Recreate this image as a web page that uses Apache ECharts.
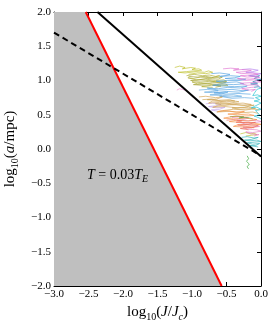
<!DOCTYPE html>
<html><head><meta charset="utf-8">
<script src="https://cdn.jsdelivr.net/npm/echarts@6/dist/echarts.min.js"></script>
<style>html,body{margin:0;padding:0;background:#fff}#c{width:274px;height:328px}</style>
</head><body><div id="c"></div>
<script>
// Axis ticks
const xTicks = [-3.0, -2.5, -2.0, -1.5, -1.0, -0.5, 0.0];
const yTicks = [-2.0, -1.5, -1.0, -0.5, 0.0, 0.5, 1.0, 1.5, 2.0];
// Boundary lines [log10(J/Jc), log10(a/mpc)]
const shadedBoundary = [[-3.0, 2.0], [-2.54, 2.0], [-0.57, -2.0]];
const redLine = [[-2.54, 2.0], [-0.57, -2.0]];
const solidLine = [[-2.37, 2.0], [0.0, -0.11]];
const dashedLine = [[-3.0, 1.70], [0.0, -0.10]];
// Trajectories
const oliveWisp = [[-1.25,1.19],[-1.18,1.21],[-1.1,1.19],[-1.14,1.17],[-1.02,1.19],[-0.95,1.18],[-1.0,1.16],[-0.9,1.17],[-0.86,1.15],[-0.98,1.14],[-1.08,1.13],[-1.2,1.12],[-1.1,1.11],[-0.94,1.13],[-0.82,1.12],[-0.76,1.14],[-0.7,1.12],[-0.8,1.1],[-0.92,1.11],[-1.05,1.09]];
const oliveDense1 = [[-1.08,1.07],[-0.97,1.09],[-0.85,1.07],[-0.75,1.08],[-0.66,1.06],[-0.6,1.07],[-0.72,1.04],[-0.88,1.05],[-0.98,1.03],[-1.06,1.04],[-0.94,1.01],[-0.8,1.02],[-0.66,1.0],[-0.54,1.01],[-0.5,0.99],[-0.6,0.98],[-0.74,0.99],[-0.88,0.97],[-1.0,0.98],[-0.92,0.95],[-0.78,0.96],[-0.64,0.94],[-0.52,0.95],[-0.48,0.93],[-0.6,0.92],[-0.72,0.93],[-0.86,0.91],[-0.7,0.9]];
const oliveDense2 = [[-1.05,1.06],[-0.92,1.05],[-0.8,1.06],[-0.68,1.04],[-0.56,1.05],[-0.62,1.02],[-0.78,1.03],[-0.9,1.01],[-1.02,1.0],[-0.9,0.99],[-0.76,1.0],[-0.62,0.97],[-0.5,0.98],[-0.56,0.96],[-0.7,0.97],[-0.84,0.95],[-0.98,0.94],[-0.86,0.93],[-0.72,0.94],[-0.58,0.92],[-0.66,0.9]];
const oliveLow = [[-0.3,0.22],[-0.22,0.24],[-0.15,0.22],[-0.1,0.23],[-0.06,0.21],[-0.14,0.2],[-0.22,0.19]];
const blue1 = [[-0.72,1.1],[-0.6,1.11],[-0.45,1.09],[-0.52,1.07],[-0.6,1.06],[-0.44,1.07],[-0.3,1.06],[-0.38,1.04],[-0.52,1.03],[-0.4,1.02],[-0.22,1.02],[-0.3,1.0],[-0.48,1.0],[-0.65,0.99],[-0.5,0.97],[-0.35,0.98],[-0.25,0.95],[-0.4,0.94],[-0.58,0.95],[-0.7,0.93],[-0.55,0.92],[-0.38,0.91],[-0.2,0.92],[-0.3,0.89],[-0.48,0.9],[-0.62,0.88],[-0.78,0.89],[-0.62,0.86],[-0.42,0.87],[-0.26,0.85],[-0.18,0.86],[-0.32,0.83],[-0.5,0.84],[-0.68,0.82],[-0.52,0.8],[-0.32,0.81],[-0.15,0.8]];
const blue2 = [[-0.16,1.07],[-0.08,1.06],[-0.02,1.07],[-0.1,1.03],[-0.03,1.01],[0.0,1.02],[-0.12,0.98],[-0.05,0.96],[-0.15,0.95],[-0.04,0.93]];
const blue3 = [[-0.9,0.86],[-0.78,0.87],[-0.62,0.85],[-0.7,0.84],[-0.82,0.83],[-0.66,0.82],[-0.48,0.83],[-0.58,0.8],[-0.74,0.79],[-0.56,0.78],[-0.4,0.79],[-0.28,0.77],[-0.44,0.76],[-0.6,0.77],[-0.42,0.74],[-0.24,0.75],[-0.1,0.74]];
const pink1 = [[-0.55,1.17],[-0.44,1.18],[-0.32,1.17],[-0.4,1.15],[-0.28,1.16],[-0.14,1.15],[-0.22,1.13],[-0.36,1.12],[-0.28,1.1],[-0.12,1.11],[-0.04,1.09],[-0.16,1.08],[-0.3,1.07],[-0.2,1.05],[-0.06,1.06],[-0.02,1.04],[-0.16,1.02],[-0.34,1.03],[-0.24,1.0],[-0.1,1.01],[0.0,0.98],[-0.12,0.97],[-0.3,0.96],[-0.2,0.93],[-0.06,0.94],[-0.02,0.91],[-0.14,0.9],[-0.28,0.88],[-0.18,0.86],[-0.08,0.87],[-0.14,0.84]];
const pinkStray = [[-1.22,0.86],[-1.18,0.88],[-1.14,0.87],[-1.16,0.85],[-1.1,0.86]];
const pink2 = [[-0.42,0.46],[-0.3,0.47],[-0.18,0.45],[-0.26,0.43],[-0.35,0.42],[-0.2,0.41],[-0.06,0.42],[0.0,0.4],[-0.14,0.38],[-0.3,0.39],[-0.22,0.36],[-0.08,0.35],[-0.02,0.33],[-0.14,0.31],[-0.26,0.32],[-0.2,0.29],[-0.06,0.28],[0.0,0.26],[-0.12,0.24],[-0.22,0.25],[-0.14,0.22],[-0.03,0.21],[-0.1,0.19]];
const purple1 = [[-0.28,1.16],[-0.16,1.17],[-0.04,1.15],[-0.12,1.13],[-0.22,1.12],[-0.1,1.11],[0.0,1.1],[-0.08,1.08],[-0.18,1.07],[-0.06,1.05],[-0.02,1.04]];
const purple2 = [[-0.8,0.66],[-0.7,0.67],[-0.58,0.65],[-0.66,0.63],[-0.76,0.62],[-0.64,0.6],[-0.52,0.61],[-0.6,0.58],[-0.72,0.57],[-0.62,0.55]];
const tan1 = [[-0.9,0.76],[-0.8,0.77],[-0.66,0.75],[-0.56,0.76],[-0.64,0.73],[-0.78,0.72],[-0.62,0.71],[-0.46,0.72],[-0.38,0.7],[-0.5,0.69],[-0.7,0.7],[-0.76,0.67],[-0.6,0.68],[-0.42,0.66],[-0.26,0.67],[-0.14,0.65],[-0.28,0.64],[-0.46,0.65],[-0.62,0.63],[-0.7,0.61],[-0.52,0.62],[-0.34,0.6],[-0.18,0.61],[-0.08,0.59],[-0.22,0.57],[-0.4,0.58],[-0.56,0.56],[-0.64,0.54],[-0.46,0.55],[-0.28,0.53],[-0.12,0.54],[-0.04,0.52]];
const tan2 = [[-0.85,0.72],[-0.72,0.73],[-0.58,0.7],[-0.44,0.71],[-0.32,0.69],[-0.46,0.67],[-0.66,0.66],[-0.52,0.64],[-0.36,0.65],[-0.2,0.63],[-0.1,0.64],[-0.24,0.61],[-0.42,0.6],[-0.3,0.58],[-0.14,0.59],[-0.02,0.57]];
const orange1 = [[-0.62,0.55],[-0.5,0.56],[-0.36,0.54],[-0.24,0.55],[-0.32,0.52],[-0.48,0.51],[-0.34,0.5],[-0.18,0.51],[-0.1,0.49],[-0.26,0.48],[-0.44,0.47],[-0.54,0.45],[-0.4,0.44],[-0.22,0.45],[-0.06,0.43],[-0.18,0.41],[-0.36,0.42],[-0.46,0.4],[-0.3,0.39],[-0.12,0.38],[0.0,0.36],[-0.16,0.35],[-0.32,0.36],[-0.4,0.33],[-0.24,0.32],[-0.1,0.31]];
const red1 = [[-0.5,0.42],[-0.4,0.43],[-0.28,0.41],[-0.36,0.39],[-0.22,0.38],[-0.08,0.39],[-0.18,0.36],[-0.34,0.35],[-0.2,0.33],[-0.04,0.34],[-0.14,0.31],[-0.3,0.3],[-0.18,0.28]];
const teal1 = [[-0.1,0.9],[-0.04,0.91],[0.0,0.89],[-0.06,0.87],[-0.12,0.78],[-0.05,0.79],[0.0,0.77],[-0.08,0.75],[-0.02,0.72],[-0.1,0.7],[-0.04,0.69],[0.0,0.67],[-0.14,0.6],[-0.06,0.61],[0.0,0.58],[-0.08,0.56],[-0.02,0.5],[-0.1,0.48],[-0.04,0.46],[0.0,0.44]];
const teal2 = [[-0.28,0.17],[-0.2,0.18],[-0.1,0.16],[-0.04,0.17],[-0.14,0.14],[-0.24,0.13],[-0.16,0.12],[-0.06,0.13],[0.0,0.11],[-0.1,0.1],[-0.2,0.09],[-0.12,0.07],[-0.02,0.08],[-0.08,0.05],[-0.16,0.05],[-0.04,0.03]];
const green1 = [[-0.2,-0.1],[-0.18,-0.14],[-0.21,-0.18],[-0.17,-0.22],[-0.2,-0.26],[-0.18,-0.29]];
const green2 = [[-0.45,0.47],[-0.36,0.48],[-0.25,0.47],[-0.32,0.45],[-0.2,0.46],[-0.12,0.44]];

const FF = 'Liberation Serif';
const fmt = v => (v < 0 ? '\u2212' : '') + Math.abs(v).toFixed(1);
const rich = {
  t: {fontFamily: FF, fontSize: 15, lineHeight: 20, color: '#000'},
  i: {fontFamily: FF, fontSize: 15, lineHeight: 20, fontStyle: 'italic', color: '#000'},
  s: {fontFamily: FF, fontSize: 10, lineHeight: 12, verticalAlign: 'bottom', color: '#000'},
  si: {fontFamily: FF, fontSize: 10, lineHeight: 12, verticalAlign: 'bottom', fontStyle: 'italic', color: '#000'}
};
const richT = {
  t: {fontFamily: FF, fontSize: 14, lineHeight: 18, color: '#000'},
  i: {fontFamily: FF, fontSize: 14, lineHeight: 18, fontStyle: 'italic', color: '#000'},
  si: {fontFamily: FF, fontSize: 10, lineHeight: 11, verticalAlign: 'bottom', fontStyle: 'italic', color: '#000'}
};
const axLine = {onZero: false, lineStyle: {color: '#000', width: 1}};
const tick = {inside: true, length: 4, lineStyle: {color: '#000'}};
const lbl = {formatter: fmt, color: '#000', fontFamily: FF, fontSize: 11, margin: 3};

function traj(data, color) {
  return {type: 'line', data: data, symbol: 'none', silent: true, z: 3,
    lineStyle: {color: color, width: 0.8, opacity: 0.8}};
}

const chart = echarts.init(document.getElementById('c'), null, {renderer: 'canvas'});
chart.setOption({
  animation: false,
  grid: {left: 54, right: 13, top: 12, bottom: 42, outerBoundsMode: 'none', containLabel: false},
  xAxis: [
    {type: 'value', min: xTicks[0], max: xTicks[xTicks.length-1], interval: 0.5, position: 'bottom',
     axisLine: axLine, axisTick: tick, axisLabel: lbl, splitLine: {show: false},
     name: '{t|log}{s|10}{t|(}{i|J}{t|/}{i|J}{si|c}{t|)}', nameLocation: 'middle', nameGap: 11,
     nameTextStyle: {rich: rich}},
    {type: 'value', min: xTicks[0], max: xTicks[xTicks.length-1], interval: 0.5, position: 'top',
     axisLine: axLine, axisTick: tick, axisLabel: {show: false}, splitLine: {show: false}}
  ],
  yAxis: [
    {type: 'value', min: yTicks[0], max: yTicks[yTicks.length-1], interval: 0.5, position: 'left',
     axisLine: axLine, axisTick: tick, axisLabel: lbl, splitLine: {show: false},
     name: '{t|log}{s|10}{t|(}{i|a}{t|/mpc)}', nameLocation: 'middle', nameGap: 33,
     nameTextStyle: {rich: rich}},
    {type: 'value', min: yTicks[0], max: yTicks[yTicks.length-1], interval: 0.5, position: 'right',
     axisLine: axLine, axisTick: tick, axisLabel: {show: false}, splitLine: {show: false}}
  ],
  graphic: [{type: 'text', left: 87, top: 168, z: 100,
    style: {text: '{i|T}{t| = 0.03}{i|T}{si|E}', rich: richT}}],
  series: [
    {type: 'line', data: shadedBoundary, symbol: 'none', silent: true, z: 1,
     lineStyle: {width: 0}, areaStyle: {color: '#bfbfbf', opacity: 1, origin: 'start'}},
    traj(oliveWisp, '#bcbd22'), traj(oliveDense1, '#aaa828'), traj(oliveDense2, '#a4a232'), traj(oliveLow, '#bcbd22'),
    traj(blue3, '#5aa6e0'), traj(blue1, '#4a9ee0'), traj(blue2, '#1f77b4'),
    traj(purple1, '#b080f0'), traj(pink1, '#e070d0'), traj(pinkStray, '#f080d0'), traj(pink2, '#e377c2'),
    traj(purple2, '#c0a0f0'),
    traj(tan1, '#cf9e4a'), traj(tan2, '#c9a24e'), traj(green2, '#2ca02c'), traj(orange1, '#f58a3a'), traj(red1, '#ec6a5a'),
    traj(teal1, '#17becf'), traj(teal2, '#2ab0b8'),
    traj(green1, '#2ca02c'),
    {type: 'line', data: redLine, symbol: 'none', silent: true, z: 4,
     lineStyle: {color: '#ff0000', width: 2}},
    {type: 'line', data: solidLine, symbol: 'none', silent: true, z: 4,
     lineStyle: {color: '#000', width: 2}},
    {type: 'line', data: dashedLine, symbol: 'none', silent: true, z: 4,
     lineStyle: {color: '#000', width: 2, type: [6, 4]}}
  ]
});
</script></body></html>
